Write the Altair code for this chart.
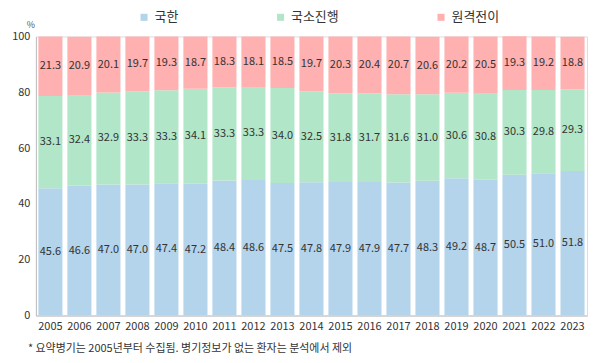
import altair as alt
import pandas as pd

years = [str(y) for y in range(2005, 2024)]
categories = ["국한", "국소진행", "원격전이"]
local = [45.6, 46.6, 47.0, 47.0, 47.4, 47.2, 48.4, 48.6, 47.5, 47.8, 47.9, 47.9, 47.7, 48.3, 49.2, 48.7, 50.5, 51.0, 51.8]
regional = [33.1, 32.4, 32.9, 33.3, 33.3, 34.1, 33.3, 33.3, 34.0, 32.5, 31.8, 31.7, 31.6, 31.0, 30.6, 30.8, 30.3, 29.8, 29.3]
distant = [21.3, 20.9, 20.1, 19.7, 19.3, 18.7, 18.3, 18.1, 18.5, 19.7, 20.3, 20.4, 20.7, 20.6, 20.2, 20.5, 19.3, 19.2, 18.8]
colors = ["#B4D4EC", "#B2E6C8", "#FFB0B0"]
note = "* 요약병기는 2005년부터 수집됨. 병기정보가 없는 환자는 분석에서 제외"

rows = []
for i, y in enumerate(years):
    for k, (cat, vals) in enumerate(zip(categories, [local, regional, distant])):
        rows.append({"year": y, "cat": cat, "ord": k, "value": vals[i]})
df = pd.DataFrame(rows)

FONT = "Noto Sans CJK KR"

base = alt.Chart(df).transform_stack(
    stack="value", groupby=["year"], as_=["y0", "y1"], sort=[alt.SortField("ord")]
).transform_calculate(mid="(datum.y0 + datum.y1) / 2")

xenc = alt.X("year:N", sort=years, title=None,
             scale=alt.Scale(paddingInner=0.17, paddingOuter=0.085),
             axis=alt.Axis(labelAngle=0, ticks=False, labelPadding=5, labelFontSize=11,
                           labelColor="#333333", labelFont=FONT, domainColor="#bfbfbf"))

bars = base.mark_bar().encode(
    x=xenc,
    y=alt.Y("y0:Q", scale=alt.Scale(domain=[0, 100]), title=None,
            axis=alt.Axis(values=[0, 20, 40, 60, 80, 100], grid=False, ticks=False,
                          labelPadding=6, labelFontSize=11, labelColor="#333333",
                          labelFont=FONT, domainColor="#bfbfbf")),
    y2="y1:Q",
    color=alt.Color("cat:N", sort=categories,
                    scale=alt.Scale(domain=categories, range=colors),
                    legend=alt.Legend(title=None, orient="none", direction="horizontal",
                                      legendX=102, legendY=-26, symbolType="square",
                                      symbolSize=50, symbolStrokeWidth=0,
                                      labelFontSize=13, labelFont=FONT, labelColor="#333333",
                                      columnPadding=96, labelOffset=4, padding=0)),
    order=alt.Order("ord:Q"),
)

labels = base.mark_text(fontSize=11, font=FONT, color="#333333").encode(
    x=alt.X("year:N", sort=years),
    y=alt.Y("mid:Q"),
    text=alt.Text("value:Q", format=".1f"),
)

pct = alt.Chart(pd.DataFrame({"t": ["%"]})).mark_text(
    fontSize=9, font=FONT, color="#555555", align="center", baseline="middle"
).encode(x=alt.value(-5), y=alt.value(-12), text="t:N")

foot = alt.Chart(pd.DataFrame({"t": [note]})).mark_text(
    fontSize=11, font=FONT, color="#333333", align="left", baseline="middle"
).encode(x=alt.value(-8), y=alt.value(314), text="t:N")

chart = alt.layer(bars, labels, pct, foot).properties(
    width=553, height=280,
    autosize=alt.AutoSizeParams(type="none"),
    padding={"left": 28, "top": 28, "right": 5, "bottom": 40},
).configure_view(stroke="#d9d9d9").configure(background="white")

chart.save("out.html", embed_options={"renderer": "svg", "actions": False})
